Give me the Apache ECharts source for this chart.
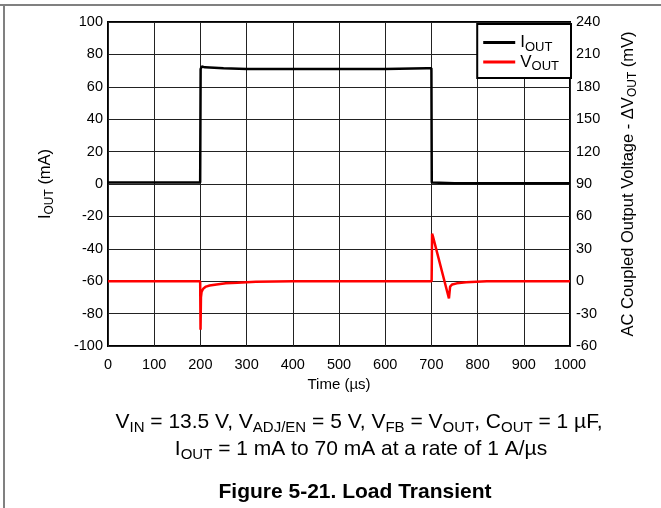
<!DOCTYPE html>
<html><head><meta charset="utf-8">
<script src="https://cdn.jsdelivr.net/npm/echarts@6/dist/echarts.min.js"></script>
<style>html,body{margin:0;padding:0;background:#fff}#c{width:661px;height:508px}</style>
</head><body><div id="c"></div>
<script>
// Time in microseconds
var ioutTime = [0, 100, 199.5, 200.5, 203, 210, 250, 300, 400, 500, 600, 690, 700, 700.8, 703, 750, 850, 1000];
var ioutValues = [1, 1, 1, 71, 72.5, 72, 71.5, 71, 71, 71, 71, 71.5, 71.5, 1, 0.5, 0.5, 0.5, 0.5];
var voutTime = [0, 100, 199.5, 200.3, 201.2, 202.5, 206, 212, 220, 235, 255, 280, 320, 400, 500, 600, 700.5, 701.5, 703, 738, 740.5, 745, 755, 775, 820, 900, 1000];
var voutValues = [0, 0, 0, -45, -15, -10, -7, -5, -4, -3, -2, -1.5, -0.5, 0, 0, 0, 0, 44, 42, -16, -5, -3, -2, -1, 0, 0, 0];
var xTicks = [0, 100, 200, 300, 400, 500, 600, 700, 800, 900, 1000];
var leftTicks = [-100, -80, -60, -40, -20, 0, 20, 40, 60, 80, 100];
var rightTicks = [-60, -30, 0, 30, 60, 90, 120, 150, 180, 210, 240];

function pairs(t, v) { return t.map(function (x, i) { return [x, v[i]]; }); }
var FONT = '"Liberation Sans", Arial, sans-serif';
var rich = function (n, s, d) {
  return {
    n: { fontFamily: FONT, fontSize: n, color: '#000' },
    s: { fontFamily: FONT, fontSize: s, padding: [d, 0, 0, 0], color: '#000' }
  };
};
var chart = echarts.init(document.getElementById('c'), null, { renderer: 'canvas' });
chart.setOption({
  animation: false,
  backgroundColor: '#fff',
  grid: { left: 108, right: 91, top: 22, height: 324, show: true, borderColor: '#000', borderWidth: 2, backgroundColor: 'transparent' },
  legend: {
    right: 90, top: 24, orient: 'vertical', backgroundColor: '#fff', borderColor: '#000', borderWidth: 2,
    padding: [10, 12, 5, 6], itemGap: 0, itemWidth: 32, itemHeight: 3, icon: 'rect',
    data: ['IOUT', 'VOUT'],
    formatter: function (name) { return '{n|' + name.charAt(0) + '}{s|' + name.slice(1) + '}'; },
    textStyle: { rich: rich(17, 13, 9) }
  },
  xAxis: {
    type: 'value', min: 0, max: 1000, interval: 100,
    name: 'Time (µs)', nameLocation: 'middle', nameGap: 30,
    nameTextStyle: { fontFamily: FONT, fontSize: 15, color: '#000' },
    axisLine: { show: false }, axisTick: { show: false },
    axisLabel: { fontFamily: FONT, fontSize: 14.5, color: '#000', margin: 11,
      formatter: function (v) { return xTicks.indexOf(v) >= 0 ? String(v) : ''; } },
    splitLine: { show: true, lineStyle: { color: '#222', width: 1 } }
  },
  yAxis: [{
    type: 'value', min: -100, max: 100, interval: 20, position: 'left',
    name: '{n|I}{s|OUT}{n| (mA)}', nameLocation: 'middle', nameGap: 52, nameRotate: 90,
    nameTextStyle: { rich: rich(16.5, 12, 9) },
    axisLine: { show: false }, axisTick: { show: false },
    axisLabel: { fontFamily: FONT, fontSize: 14.5, color: '#000', margin: 5,
      formatter: function (v) { return leftTicks.indexOf(v) >= 0 ? String(v) : ''; } },
    splitLine: { show: true, lineStyle: { color: '#222', width: 1 } }
  }, {
    type: 'value', min: -60, max: 240, interval: 30, position: 'right',
    name: '{n|AC Coupled Output Voltage - ΔV}{s|OUT}{n| (mV)}', nameLocation: 'middle', nameGap: 48, nameRotate: 90,
    nameTextStyle: { rich: rich(16.5, 12, 9) },
    axisLine: { show: false }, axisTick: { show: false },
    axisLabel: { fontFamily: FONT, fontSize: 14.5, color: '#000', margin: 6,
      formatter: function (v) { return rightTicks.indexOf(v) >= 0 ? String(v) : ''; } },
    splitLine: { show: false }
  }],
  series: [{
    name: 'IOUT', type: 'line', yAxisIndex: 0, showSymbol: false, symbol: 'none',
    lineStyle: { color: '#000', width: 2.5 }, itemStyle: { color: '#000' },
    data: pairs(ioutTime, ioutValues), z: 3
  }, {
    name: 'VOUT', type: 'line', yAxisIndex: 1, showSymbol: false, symbol: 'none',
    lineStyle: { color: '#ff0000', width: 2.5 }, itemStyle: { color: '#ff0000' },
    data: pairs(voutTime, voutValues), z: 4
  }],
  graphic: [
    { type: 'line', shape: { x1: 0, y1: 5, x2: 661, y2: 5 }, style: { stroke: '#808080', lineWidth: 2 } },
    { type: 'line', shape: { x1: 4, y1: 5, x2: 4, y2: 508 }, style: { stroke: '#808080', lineWidth: 2 } },
    { type: 'text', x: 359, y: 409, style: {
      text: '{n|V}{s|IN}{n| = 13.5 V, V}{s|ADJ/EN}{n| = 5 V, V}{s|FB}{n| = V}{s|OUT}{n|, C}{s|OUT}{n| = 1 µF,}',
      rich: rich(21, 15, 11), align: 'center' } },
    { type: 'text', x: 361, y: 436, style: {
      text: '{n|I}{s|OUT}{n| = 1 mA to 70 mA at a rate of 1 A/µs}',
      rich: rich(21, 15, 11), align: 'center' } },
    { type: 'text', x: 355, y: 482, style: {
      text: 'Figure 5-21. Load Transient', fontFamily: FONT, fontSize: 21, fontWeight: 'bold', fill: '#000', align: 'center' } }
  ]
});
</script></body></html>
